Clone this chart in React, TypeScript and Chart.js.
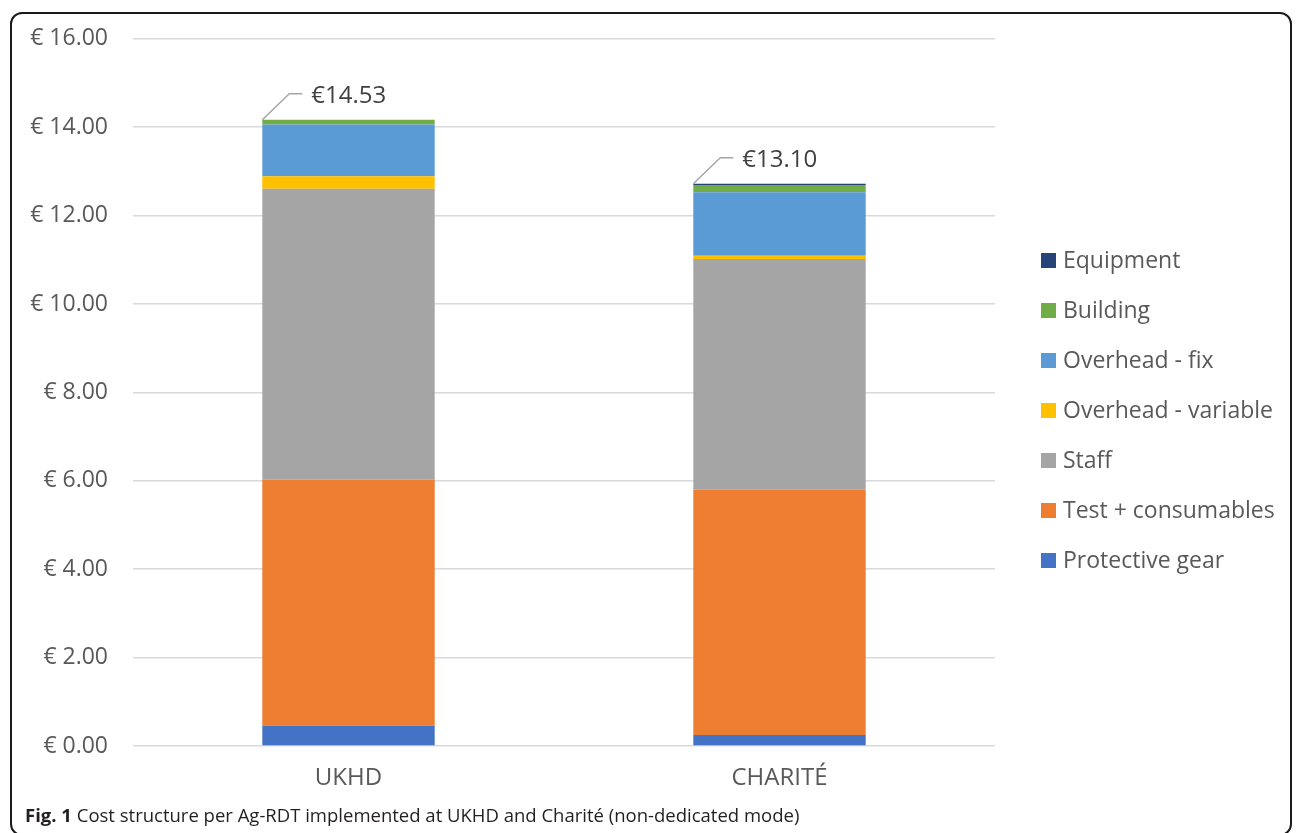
import React, { useEffect, useRef } from "react";
import { Chart, registerables } from "chart.js";

Chart.register(...registerables);

const categories = ["UKHD", "CHARITÉ"];
const seriesNames = [
  "Protective gear",
  "Test + consumables",
  "Staff",
  "Overhead - variable",
  "Overhead - fix",
  "Building",
  "Equipment",
];
const protectiveGear = [0.46, 0.25];
const testConsumables = [5.57, 5.55];
const staff = [6.58, 5.22];
const overheadVariable = [0.28, 0.07];
const overheadFix = [1.17, 1.44];
const building = [0.11, 0.16];
const equipment = [0.0, 0.03];
const totalLabels = [14.53, 13.1];
const yTicks = [0, 2, 4, 6, 8, 10, 12, 14, 16];

const seriesValues = [
  protectiveGear,
  testConsumables,
  staff,
  overheadVariable,
  overheadFix,
  building,
  equipment,
];
const seriesColors = [
  "#4472C4",
  "#ED7D31",
  "#A5A5A5",
  "#FFC000",
  "#5B9BD5",
  "#70AD47",
  "#264478",
];

const FONT = "'Open Sans', 'Noto Sans', sans-serif";

const totalLabelPlugin = {
  id: "totalLabels",
  afterDatasetsDraw(chart: any) {
    const ctx = chart.ctx;
    const lastMeta = chart.getDatasetMeta(chart.data.datasets.length - 1);
    ctx.save();
    lastMeta.data.forEach((bar: any, i: number) => {
      const props = bar.getProps(["x", "y", "width"], true);
      const x0 = props.x - props.width / 2;
      const y0 = props.y;
      ctx.strokeStyle = "#A6A6A6";
      ctx.lineWidth = 1.5;
      ctx.beginPath();
      ctx.moveTo(x0, y0);
      ctx.lineTo(x0 + 27, y0 - 26);
      ctx.lineTo(x0 + 40, y0 - 26);
      ctx.stroke();
      ctx.fillStyle = "#404040";
      ctx.font = `24px ${FONT}`;
      ctx.textAlign = "left";
      ctx.textBaseline = "middle";
      ctx.fillText("€" + totalLabels[i].toFixed(2), x0 + 49, y0 - 24);
    });
    ctx.restore();
  },
};

export default function App() {
  const canvasRef = useRef<HTMLCanvasElement | null>(null);

  useEffect(() => {
    document.body.style.margin = "0";
    const canvas = canvasRef.current;
    if (!canvas) return;
    const chart = new Chart(canvas, {
      type: "bar",
      data: {
        labels: categories,
        datasets: seriesNames.map((name, i) => ({
          label: name,
          data: seriesValues[i],
          backgroundColor: seriesColors[i],
          borderWidth: 0,
          barPercentage: 0.4,
          categoryPercentage: 1,
        })),
      },
      options: {
        animation: false,
        responsive: false,
        maintainAspectRatio: false,
        devicePixelRatio: 1,
        layout: { padding: { left: 0, top: 38, right: 301, bottom: 27 } },
        plugins: {
          legend: { display: false },
          tooltip: { enabled: false },
        },
        scales: {
          x: {
            stacked: true,
            grid: { display: false, drawTicks: false },
            border: { display: false },
            ticks: {
              color: "#595959",
              font: { family: FONT, size: 24 },
              padding: 18,
            },
            afterFit: (scale: any) => {
              scale.height = 60;
            },
          },
          y: {
            stacked: true,
            min: 0,
            max: 16,
            afterBuildTicks: (scale: any) => {
              scale.ticks = yTicks.map((v) => ({ value: v }));
            },
            grid: { color: "#D9D9D9", lineWidth: 1.5, drawTicks: false },
            border: { display: false },
            ticks: {
              color: "#595959",
              font: { family: FONT, size: 23 },
              padding: 25,
              callback: (v: any) => "€ " + Number(v).toFixed(2),
            },
            afterFit: (scale: any) => {
              scale.width = 133;
            },
          },
        },
      },
      plugins: [totalLabelPlugin],
    });
    return () => chart.destroy();
  }, []);

  const legendOrder = seriesNames.map((_, i) => i).reverse();

  return (
    <div
      style={{
        position: "relative",
        width: 1296,
        height: 833,
        overflow: "hidden",
        background: "#fff",
        fontFamily: FONT,
      }}
    >
      <div
        style={{
          position: "absolute",
          left: 10,
          top: 12,
          width: 1282,
          height: 824,
          border: "2px solid #1a1a1a",
          borderRadius: 12,
          boxSizing: "border-box",
        }}
      />
      <canvas
        ref={canvasRef}
        width={1296}
        height={833}
        style={{ position: "absolute", left: 0, top: 0, width: 1296, height: 833 }}
      />
      {legendOrder.map((idx, k) => (
        <div key={seriesNames[idx]}>
          <div
            style={{
              position: "absolute",
              left: 1041,
              top: 253 + k * 50,
              width: 15,
              height: 15,
              background: seriesColors[idx],
            }}
          />
          <div
            style={{
              position: "absolute",
              left: 1063,
              top: 248 + k * 50,
              fontSize: 23,
              lineHeight: "23px",
              color: "#595959",
              whiteSpace: "nowrap",
            }}
          >
            {seriesNames[idx]}
          </div>
        </div>
      ))}
      <div
        style={{
          position: "absolute",
          left: 25,
          top: 805,
          fontSize: 18.5,
          lineHeight: "19px",
          color: "#231f20",
          whiteSpace: "nowrap",
        }}
      >
        <b>Fig. 1</b> Cost structure per Ag-RDT implemented at UKHD and Charité (non-dedicated mode)
      </div>
    </div>
  );
}
